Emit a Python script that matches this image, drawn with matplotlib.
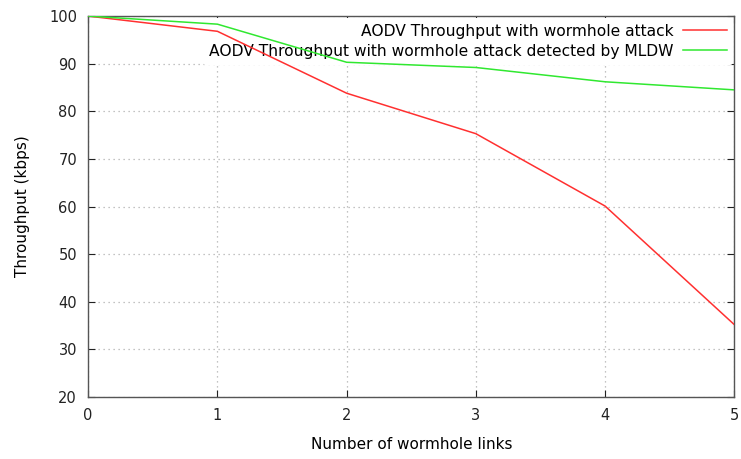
import matplotlib
matplotlib.use("Agg")
import matplotlib.pyplot as plt

links = [0, 1, 2, 3, 4, 5]
tp_attack = [100, 96.8, 83.8, 75.3, 60.1, 35.2]
tp_mldw = [100, 98.3, 90.3, 89.2, 86.2, 84.5]

fig = plt.figure(figsize=(7.41, 4.59), dpi=100)
ax = fig.add_axes([0.119, 0.135, 0.872, 0.83])
ax.set_axisbelow(True)

ax.plot(links, tp_attack, color="#ff3030", lw=1.1, zorder=3,
        label="AODV Throughput with wormhole attack")
ax.plot(links, tp_mldw, color="#30e830", lw=1.1, zorder=3,
        label="AODV Throughput with wormhole attack detected by MLDW")

ax.set_xlim(0, 5)
ax.set_ylim(20, 100)
ax.set_xticks(links)
ax.set_yticks(range(20, 101, 10))
ax.grid(True, color="#b0b0b0", linestyle=(0, (1, 3)), lw=0.9)
ax.tick_params(direction="in", top=True, right=True, length=5,
               labelsize=10.5, colors="#222222", pad=8)
for s in ax.spines.values():
    s.set_color("#555555")
    s.set_linewidth(1.0)

ax.set_xlabel("Number of wormhole links", fontsize=11, labelpad=10)
ax.set_ylabel("Throughput (kbps)", fontsize=11, labelpad=14)

leg = ax.legend(loc="upper right", markerfirst=False, frameon=True,
                fontsize=11.2, handlelength=2.8, borderaxespad=0.1,
                labelspacing=0.3, borderpad=0.4, handletextpad=0.6)
leg.get_frame().set_edgecolor("none")
leg.get_frame().set_alpha(1)
leg.set_zorder(2)
for t in leg.get_texts():
    t.set_ha("right")
leg._legend_box.align = "right"

fig.savefig("out.png", dpi=100)
